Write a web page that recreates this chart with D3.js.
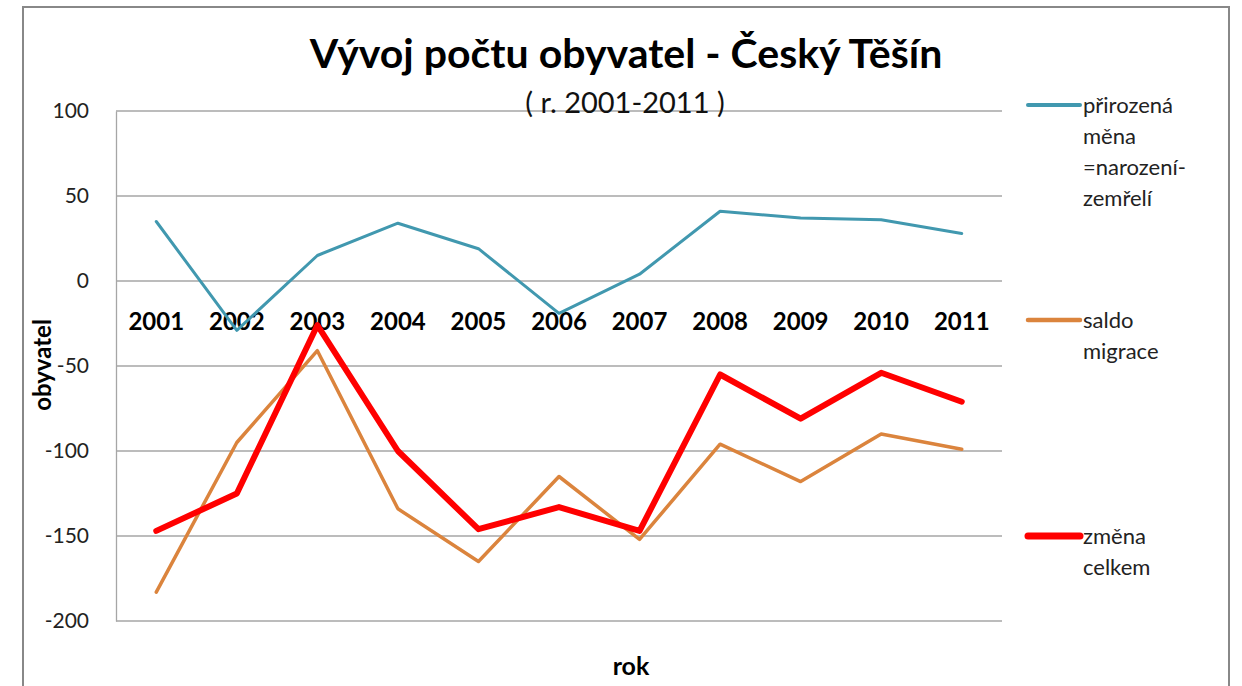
<!DOCTYPE html>
<html>
<head>
<meta charset="utf-8">
<script src="https://cdn.jsdelivr.net/npm/d3@7"></script>
<style>
  body { margin: 0; background: #fff; }
  svg { display: block; font-family: Lato, "Open Sans", sans-serif; }
</style>
</head>
<body>
<svg id="chart"></svg>
<script>
// data
const years = ["2001", "2002", "2003", "2004", "2005", "2006", "2007", "2008", "2009", "2010", "2011"];
const prirozenaMena = [35, -29, 15, 34, 19, -19, 4, 41, 37, 36, 28];
const saldoMigrace = [-183, -95, -41, -134, -165, -115, -152, -96, -118, -90, -99];
const zmenaCelkem = [-147, -125, -26, -100, -146, -133, -147, -55, -81, -54, -71];
const yTicks = [100, 50, 0, -50, -100, -150, -200];

const series = [
  { name: ["přirozená", "měna", "=narození-", "zemřelí"], values: prirozenaMena, color: "#4198AF", width: 3, legendY: 105 },
  { name: ["saldo", "migrace"], values: saldoMigrace, color: "#DB843D", width: 3.5, legendY: 320 },
  { name: ["změna", "celkem"], values: zmenaCelkem, color: "#FF0000", width: 6, legendY: 536 }
];

const width = 1242, height = 686;
const margin = { top: 111, right: 240, bottom: 65, left: 116 };

const svg = d3.select("#chart")
  .attr("width", width)
  .attr("height", height);

// outer frame
svg.append("rect")
  .attr("x", 23).attr("y", 7)
  .attr("width", 1206).attr("height", 700)
  .attr("fill", "#fff")
  .attr("stroke", "#888").attr("stroke-width", 2);

const x = d3.scaleBand()
  .domain(years)
  .range([margin.left, width - margin.right]);

const y = d3.scaleLinear()
  .domain([-200, 100])
  .range([height - margin.bottom, margin.top]);

// gridlines
svg.append("g")
  .selectAll("line")
  .data(yTicks)
  .join("line")
    .attr("x1", margin.left)
    .attr("x2", width - margin.right)
    .attr("y1", d => y(d))
    .attr("y2", d => y(d))
    .attr("stroke", "#a6a6a6")
    .attr("stroke-width", 1.3);

// y axis
const yAxis = svg.append("g")
  .attr("transform", `translate(${margin.left},0)`)
  .call(d3.axisLeft(y).tickValues(yTicks).tickSize(0).tickPadding(27).tickFormat(d => String(d)));
yAxis.attr("font-family", null);
yAxis.select(".domain").attr("stroke", "#a6a6a6").attr("stroke-width", 1.3);
yAxis.selectAll("text")
  .style("font-size", "21px")
  .attr("fill", "#222");

// x labels sit just under the zero line
const xAxis = svg.append("g")
  .attr("transform", `translate(0,${y(0)})`)
  .call(d3.axisBottom(x).tickSize(0));
xAxis.attr("font-family", null);
xAxis.select(".domain").remove();
xAxis.selectAll("text")
  .attr("y", 49)
  .attr("dy", 0)
  .style("font-size", "24px")
  .style("font-weight", "bold")
  .attr("fill", "#000");

// lines
const line = d3.line()
  .x((d, i) => x(years[i]) + x.bandwidth() / 2)
  .y(d => y(d));

svg.append("g")
  .selectAll("path")
  .data(series)
  .join("path")
    .attr("d", d => line(d.values))
    .attr("fill", "none")
    .attr("stroke", d => d.color)
    .attr("stroke-width", d => d.width)
    .attr("stroke-linejoin", "round")
    .attr("stroke-linecap", "round");

// legend
const legend = svg.append("g")
  .selectAll("g")
  .data(series)
  .join("g")
    .attr("transform", d => `translate(1028,${d.legendY})`);

legend.append("line")
  .attr("x1", 0).attr("x2", 52)
  .attr("stroke", d => d.color)
  .attr("stroke-width", d => d.width + 1)
  .attr("stroke-linecap", "round");

legend.append("text")
  .attr("x", 55)
  .attr("y", 8)
  .style("font-size", "22px")
  .attr("fill", "#222")
  .selectAll("tspan")
  .data(d => d.name)
  .join("tspan")
    .attr("x", 55)
    .attr("dy", (d, i) => i === 0 ? 0 : 31)
    .text(d => d);

// titles
svg.append("text")
  .attr("x", 626).attr("y", 68)
  .attr("text-anchor", "middle")
  .style("font-size", "41px")
  .style("font-weight", "bold")
  .text("Vývoj počtu obyvatel - Český Těšín");

svg.append("text")
  .attr("x", 625).attr("y", 113)
  .attr("text-anchor", "middle")
  .style("font-size", "29px")
  .attr("fill", "#111")
  .text("( r. 2001-2011 )");

svg.append("text")
  .attr("transform", "translate(51,365) rotate(-90)")
  .attr("text-anchor", "middle")
  .style("font-size", "24px")
  .style("font-weight", "bold")
  .text("obyvatel");

svg.append("text")
  .attr("x", 631).attr("y", 675)
  .attr("text-anchor", "middle")
  .style("font-size", "25px")
  .style("font-weight", "bold")
  .text("rok");
</script>
</body>
</html>
